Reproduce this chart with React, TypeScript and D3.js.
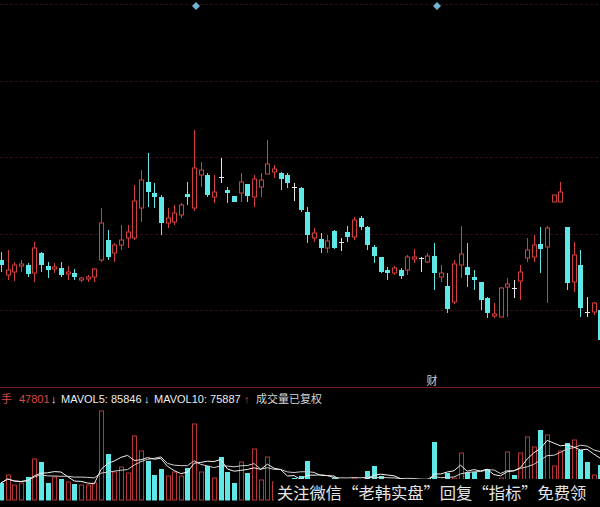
import React from "react";
import * as d3 from "d3";

// ---- data (price units, volume in 手) ----
const open = [
  24.0, 22.5, 22.8, 23.4, 23.5, 22.7, 24.7, 23.4, 23.1, 23.2,
  22.6, 22.7, 22.0, 22.1, 22.3, 24.0, 26.0, 24.7, 25.5, 26.2,
  26.2, 29.2, 31.8, 30.7, 30.3, 27.7, 27.8, 28.5, 30.6, 29.2,
  32.5, 32.5, 30.3, 32.3, 31.0, 30.4, 30.7, 31.6, 30.3, 31.3,
  32.6, 32.8, 32.7, 32.5, 31.3, 31.2, 28.8, 26.2, 26.1, 25.2,
  26.9, 25.8, 26.8, 26.3, 28.2, 27.3, 25.3, 24.3, 23.0, 22.7,
  23.0, 23.0, 24.1, 24.2, 23.8, 24.4, 22.3, 21.4, 19.8, 23.5,
  23.3, 22.3, 21.8, 20.2, 18.4, 18.3, 21.3, 21.2, 21.9, 24.2,
  24.3, 25.6, 25.3, 29.8, 29.8, 27.3, 21.8, 23.5, 18.8, 18.8,
  19.0,
];
const high = [
  24.8, 25.0, 23.8, 24.0, 23.7, 25.8, 24.8, 23.8, 23.7, 23.8,
  23.4, 23.1, 22.3, 22.5, 23.2, 29.2, 27.0, 25.7, 27.5, 27.5,
  31.5, 33.0, 34.7, 31.7, 30.5, 29.2, 29.5, 29.7, 31.8, 37.0,
  33.8, 32.7, 32.5, 34.2, 31.3, 30.4, 32.7, 31.6, 32.5, 32.7,
  36.0, 33.5, 32.8, 32.7, 31.7, 31.3, 29.3, 27.2, 26.7, 26.5,
  27.0, 26.2, 27.4, 28.3, 28.4, 27.4, 25.5, 24.3, 23.3, 23.4,
  23.2, 24.5, 25.1, 24.3, 24.7, 25.7, 23.5, 22.7, 24.0, 27.4,
  25.7, 23.0, 21.8, 20.3, 19.7, 21.3, 22.2, 22.0, 23.5, 26.2,
  26.5, 27.3, 27.4, 30.5, 31.8, 27.3, 25.8, 25.0, 20.3, 19.8,
  19.5,
];
const low = [
  22.8, 22.0, 21.9, 22.8, 22.3, 21.8, 22.8, 22.2, 22.7, 22.3,
  22.0, 22.0, 21.8, 21.8, 21.8, 23.8, 24.0, 23.8, 25.0, 25.2,
  26.0, 27.8, 29.3, 29.2, 26.5, 27.2, 27.5, 28.2, 29.5, 28.9,
  31.3, 30.3, 29.7, 31.7, 29.7, 29.8, 29.8, 29.8, 29.3, 30.3,
  32.6, 32.2, 31.0, 31.2, 29.9, 28.8, 25.7, 25.8, 24.7, 24.7,
  25.1, 24.9, 25.8, 26.0, 27.0, 25.0, 23.7, 22.7, 22.0, 22.5,
  22.1, 22.5, 23.7, 22.8, 23.7, 21.0, 21.8, 18.7, 19.6, 22.2,
  21.3, 21.0, 19.0, 18.2, 18.2, 18.3, 18.3, 20.2, 20.0, 23.8,
  23.8, 22.7, 19.7, 29.8, 29.8, 21.0, 20.8, 18.3, 18.3, 18.5,
  15.5,
];
const close = [
  23.5, 23.0, 23.5, 23.6, 22.6, 25.2, 23.5, 23.0, 23.3, 22.5,
  22.8, 22.3, 22.2, 22.3, 23.1, 27.7, 24.3, 25.5, 26.0, 26.8,
  29.9, 32.0, 30.8, 30.3, 27.7, 28.2, 28.7, 29.5, 30.3, 33.2,
  33.0, 30.5, 30.8, 32.3, 30.7, 29.8, 31.8, 30.4, 32.1, 32.0,
  33.6, 33.1, 32.1, 31.7, 31.3, 29.0, 26.5, 26.7, 25.2, 25.9,
  25.2, 25.8, 26.3, 28.0, 27.3, 25.5, 24.4, 22.8, 22.7, 23.2,
  22.4, 24.3, 24.3, 24.2, 24.4, 22.7, 22.7, 19.1, 23.6, 24.6,
  22.5, 22.0, 20.0, 18.7, 18.6, 21.2, 21.6, 21.2, 22.8, 25.0,
  25.5, 25.1, 27.2, 30.5, 30.8, 21.7, 24.5, 19.2, 18.8, 19.7,
  16.0,
];
const volume = [
  23800, 35000, 21000, 23800, 32200, 57400, 53200, 23800, 32200, 29400,
  25200, 22400, 21000, 21000, 23800, 124600, 64400, 39200, 46200, 37800,
  89600, 68600, 54600, 35000, 43400, 33600, 39200, 33600, 44800, 106400,
  39200, 47600, 30800, 60200, 39200, 23800, 53200, 37800, 71400, 28000,
  60200, 25200, 28000, 26600, 30800, 33600, 54600, 28000, 29400, 25200,
  30800, 23800, 26600, 30800, 28000, 40600, 47600, 33600, 25200, 22400,
  21000, 28000, 23800, 22400, 26600, 81200, 28000, 37800, 30800, 65800,
  39200, 39200, 28000, 43400, 28000, 30800, 67200, 35000, 65800, 88200,
  74200, 98000, 91000, 47600, 68600, 79800, 84000, 70000, 53200, 35000,
  49000,
];

const legendLabels = ["手", "47801", "↓", "MAVOL5: 85846", "↓", "MAVOL10: 75887", "↑", "成交量已复权"];
const watermark = "关注微信“老韩实盘”回复“指标”免费领";
const marker = "财";

const RED = "#d2403f";
const CYAN = "#5ee8e8";
const WHITE = "#e6e6e6";

function movingAverage(values: number[], n: number) {
  return values.map((_, i) => {
    const s = values.slice(Math.max(0, i - n + 1), i + 1);
    return d3.mean(s) as number;
  });
}

export default function App() {
  const W = 600, H = 507;
  const idx = d3.range(open.length);
  const x = d3.scaleLinear().domain([0, open.length - 1]).range([1, 600.4]);
  const y = d3.scaleLinear().domain([11.3, 49.6]).range([387, 4]);
  const yv = d3.scaleLinear().domain([0, 124600]).range([500, 411]);
  const grid = d3.range(5).map((k) => 4 + (k * 383) / 5);

  const ma5 = movingAverage(volume, 5);
  const ma10 = movingAverage(volume, 10);
  const line = d3
    .line<number>()
    .x((_, i) => x(i))
    .y((d) => yv(d));

  const kind = (i: number) => (close[i] > open[i] ? "up" : close[i] < open[i] ? "down" : "flat");
  const fontLat = "'Liberation Sans', Arial, 'Noto Sans CJK SC', sans-serif";
  const fontCJK = "'Noto Sans CJK SC', 'Liberation Sans', sans-serif";

  const legendX = [1, 19, 51, 61, 144, 154, 244, 256];
  const legendFill = ["#d84848", "#d84848", "#cfe6e6", "#ececec", "#cfe6e6", "#ececec", "#d84848", "#d6d6d6"];

  return (
    <div style={{ position: "fixed", left: 0, top: 0, width: W, height: H, background: "#000" }}>
      <svg width={W} height={H} style={{ display: "block" }}>
        <rect x={0} y={0} width={W} height={H} fill="#000" />
        {/* grid lines */}
        {grid.map((gy, k) => (
          <line key={k} x1={0} x2={W} y1={Math.round(gy) + 0.5} y2={Math.round(gy) + 0.5}
            stroke="#360c0c" strokeWidth={1} strokeDasharray="3 2" />
        ))}
        <line x1={0} x2={W} y1={387.5} y2={387.5} stroke="#7a1b1b" strokeWidth={1} />
        {/* diamonds */}
        {[196, 437].map((dx, k) => (
          <path key={k} d={`M${dx},2 L${dx + 4},6 L${dx},10 L${dx - 4},6 Z`} fill="#6fb6d6" />
        ))}
        <text x={432} y={385} textAnchor="middle" fontSize={11} fill="#cfcfcf" fontFamily={fontCJK}>{marker}</text>

        {/* candles */}
        {idx.map((i) => {
          const cx = Math.round(x(i));
          const k = kind(i);
          const yh = y(high[i]), yl = y(low[i]);
          const yt = y(Math.max(open[i], close[i]));
          const yb = y(Math.min(open[i], close[i]));
          if (k === "up") {
            return (
              <g key={i}>
                <line x1={cx + 0.5} x2={cx + 0.5} y1={yh} y2={yt} stroke={RED} />
                <line x1={cx + 0.5} x2={cx + 0.5} y1={yb} y2={yl} stroke={RED} />
                <rect x={cx - 1.5} y={yt} width={4} height={Math.max(1, yb - yt)} fill="#000" stroke={RED} />
              </g>
            );
          }
          if (k === "down") {
            return (
              <g key={i}>
                <line x1={cx + 0.5} x2={cx + 0.5} y1={yh} y2={yl} stroke={CYAN} />
                <rect x={cx - 2} y={yt} width={5} height={Math.max(1, yb - yt)} fill={CYAN} />
              </g>
            );
          }
          return (
            <g key={i}>
              <line x1={cx + 0.5} x2={cx + 0.5} y1={yh} y2={yl} stroke={WHITE} />
              <line x1={cx - 2} x2={cx + 3} y1={Math.round(yt) + 0.5} y2={Math.round(yt) + 0.5} stroke={WHITE} />
            </g>
          );
        })}

        {/* legend */}
        <text y={403} fontSize={11}>
          {legendLabels.map((t, k) => (
            <tspan key={k} x={legendX[k]} fill={legendFill[k]}
              fontFamily={/[\u4e00-\u9fff]/.test(t) ? fontCJK : fontLat}>{t}</tspan>
          ))}
        </text>

        {/* volume bars */}
        {idx.map((i) => {
          const cx = Math.round(x(i));
          const top = yv(volume[i]);
          if (kind(i) === "up") {
            return <rect key={i} x={cx - 1.5} y={top} width={4} height={500 - top} fill="#000" stroke="#b83636" />;
          }
          return <rect key={i} x={cx - 2} y={top} width={5} height={500.5 - top} fill={CYAN} />;
        })}
        <path d={line(ma10) || ""} fill="none" stroke="#cfcfcf" strokeWidth={1} />
        <path d={line(ma5) || ""} fill="none" stroke="#f2f2f2" strokeWidth={1} />

        {/* watermark */}
        <rect x={274} y={479} width={W - 274} height={H - 479} fill="#000" />
        <text x={277} y={499} fontSize={16.3} fill="#e4e4e4" fontFamily={fontCJK}>{watermark}</text>
      </svg>
    </div>
  );
}
